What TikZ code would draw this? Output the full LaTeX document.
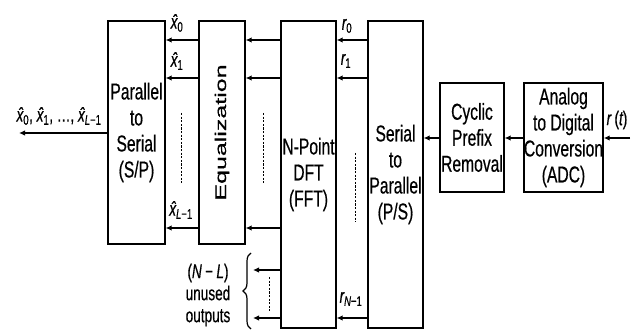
\documentclass[tikz,border=0pt]{standalone}
\usepackage{fontspec}
\setmainfont{Liberation Sans}[FakeStretch=0.68,FakeBold=0.5]
\newfontfamily\plainfont{Liberation Sans}[FakeBold=0.5]
\usetikzlibrary{arrows.meta,decorations.pathreplacing}
\newcommand{\xh}{\itshape\^{x}\upshape}
\begin{document}
\begin{tikzpicture}[x=1pt,y=-1pt,
  box/.style={draw,line width=1.3pt,inner sep=0pt,align=center,
    font=\fontsize{23}{26}\selectfont},
  arr/.style={line width=1.6pt,-{Latex[length=6pt,width=5.5pt]}},
  dots/.style={line width=1pt,dash pattern=on 2.2pt off 1.4pt},
  lab/.style={inner sep=0pt,font=\fontsize{20}{20}\selectfont}]
\useasboundingbox (0,0) rectangle (633,331);
% boxes
\node[box,minimum width=57,minimum height=223] (ps) at (136.5,132.5)
  {Parallel\\to\\Serial\\(S/P)};
\node[box,minimum width=46,minimum height=223] (eq) at (222,132.5)
  {\rotatebox{90}{\scalebox{1}[0.62]{\fontsize{25}{25}\plainfont Equalization}}};
\node[box,minimum width=55,minimum height=307] (dft) at (308.5,174.5)
  {N-Point\\DFT\\(FFT)};
\node[box,minimum width=55,minimum height=307] (sp) at (395.5,174.5)
  {Serial\\to\\Parallel\\(P/S)};
\node[box,minimum width=64,minimum height=109] (cp) at (472,137.5)
  {Cyclic\\Prefix\\Removal};
\node[box,minimum width=77,minimum height=109] (adc) at (563.5,137.5)
  {Analog\\to Digital\\Conversion\\(ADC)};
% reference coordinates
\coordinate (y0) at (0,40);
\coordinate (y1) at (0,78);
\coordinate (yL) at (0,228);
\coordinate (u0) at (0,270);
\coordinate (u1) at (0,318);
\coordinate (in) at (630,138);
\coordinate (out) at (19,133);
\coordinate (ua) at (253,270);
\coordinate (ub) at (253,318);
% input and serial chain
\draw[arr] (in) -- (adc.east |- in);
\draw[arr] (adc.west |- in) -- (cp.east |- in);
\draw[arr] (cp.west |- in) -- (sp.east |- in);
% S/P to DFT
\draw[arr] (sp.west |- y0) -- (dft.east |- y0);
\draw[arr] (sp.west |- y1) -- (dft.east |- y1);
\draw[arr] (sp.west |- u1) -- (dft.east |- u1);
\draw[dots] (355,153) -- (355,222);
% DFT to Eq
\draw[arr] (dft.west |- y0) -- (eq.east |- y0);
\draw[arr] (dft.west |- y1) -- (eq.east |- y1);
\draw[arr] (dft.west |- yL) -- (eq.east |- yL);
\draw[dots] (263,113) -- (263,183);
% unused outputs
\draw[arr] (dft.west |- u0) -- (ua);
\draw[arr] (dft.west |- u1) -- (ub);
\draw[dots] (269,277) -- (269,311);
% Eq to P/S
\draw[arr] (eq.west |- y0) -- (ps.east |- y0);
\draw[arr] (eq.west |- y1) -- (ps.east |- y1);
\draw[arr] (eq.west |- yL) -- (ps.east |- yL);
\draw[dots] (181,113) -- (181,183);
% output
\draw[arr] (ps.west |- out) -- (out);
% brace
\draw[line width=1.2pt,decorate,decoration={brace,amplitude=8pt}]
  (251,329) -- (251,253);
% labels
\node[lab] (lx0) at (177,23) {\xh\textsubscript{0}};
\node[lab] (lx1) at (177,61) {\xh\textsubscript{1}};
\node[lab] (lxL) at (181,210) {\xh\textsubscript{\itshape L\upshape−1}};
\node[lab] (lout) at (59,116) {\xh\textsubscript{0}, \xh\textsubscript{1}, …, \xh\textsubscript{\itshape L\upshape−1}};
\node[lab] (lr0) at (347,26) {\itshape r\upshape\textsubscript{0}};
\node[lab] (lr1) at (346,61) {\itshape r\upshape\textsubscript{1}};
\node[lab] (lrN) at (351,299) {\itshape r\upshape\textsubscript{\itshape N\upshape−1}};
\node[lab] (lrt) at (617,120) {\itshape r\upshape\,(\itshape t\upshape)};
\node[inner sep=0pt,align=center,font=\fontsize{20}{22}\selectfont] (unused) at (208,295)
  {(\itshape N\upshape\,−\,\itshape L\upshape)\\unused\\outputs};
\end{tikzpicture}
\end{document}
